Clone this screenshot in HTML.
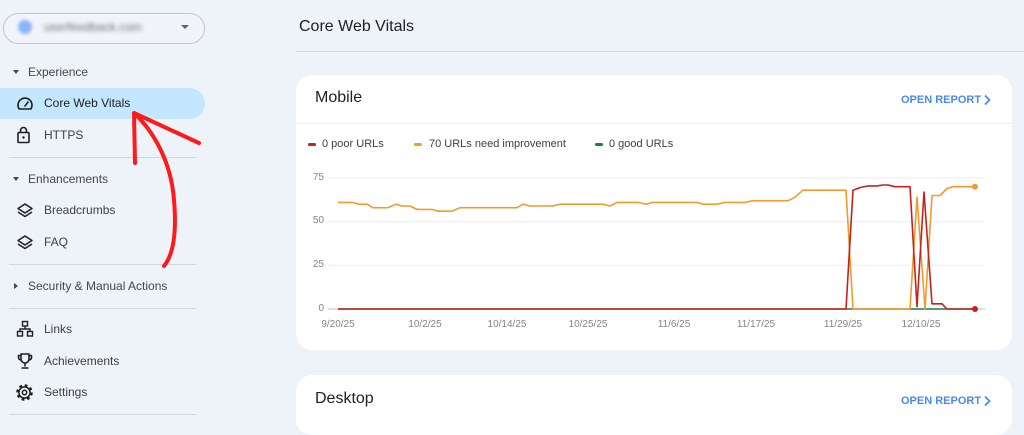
<!DOCTYPE html>
<html><head><meta charset="utf-8">
<style>
html,body{margin:0;padding:0;}
body{width:1024px;height:420px;overflow:hidden;background:#eef2f9;font-family:"Liberation Sans",Arial,sans-serif;position:relative;color:#3c4043;}
.a{position:absolute;white-space:nowrap;}
.side{font-size:12px;color:#3c4043;line-height:16px;}
.hd{font-size:12px;color:#444746;line-height:16px;}
.div{position:absolute;height:1px;background:#d3d6db;left:9px;width:187px;}
.card{position:absolute;left:296px;width:716px;background:#fff;border-radius:16px;}
.ttl{font-size:16px;color:#202124;line-height:20px;}
.open{font-size:11px;font-weight:bold;color:#4a89f3;line-height:14px;}
.leg{font-size:11px;color:#3c4043;line-height:14px;}
.yl{font-size:10px;color:#80868b;line-height:12px;text-align:right;width:20px;}
.xl{font-size:10px;color:#80868b;line-height:12px;text-align:center;width:60px;}
</style></head><body>

<!-- site selector -->
<div class="a" style="left:3px;top:13px;width:200px;height:29px;border:1px solid #c4c7c5;border-radius:16px;background:#f1f4fa;"></div>
<div class="a" style="left:18px;top:20px;width:14px;height:14px;border-radius:50%;background:#8ab4f8;filter:blur(1.5px);"></div>
<div class="a" style="left:44px;top:20px;font-size:12px;color:#6b6f75;filter:blur(2px);line-height:14px;">userfeedback.com</div>
<svg class="a" style="left:180px;top:24px" width="10" height="6"><polygon points="1,1 9,1 5,5" fill="#5f6368"/></svg>

<!-- sidebar -->
<svg class="a" style="left:12px;top:69px" width="8" height="6"><polygon points="1,1 7,1 4,5" fill="#444746"/></svg>
<div class="a hd" style="left:28px;top:64px;">Experience</div>

<div class="a" style="left:0;top:88px;width:205px;height:31px;background:#c2e7ff;border-radius:0 16px 16px 0;"></div>
<svg class="a" style="left:16px;top:95px" width="18" height="18" fill="none" stroke="#1f1f1f" stroke-width="1.6">
<path d="M3.2,14 A7,7 0 1 1 14.8,14 Z" stroke-linejoin="round"/><line x1="9" y1="11" x2="12" y2="7" stroke-linecap="round"/></svg>
<div class="a side" style="left:44px;top:95px;color:#1f1f1f;">Core Web Vitals</div>

<svg class="a" style="left:16px;top:126px" width="16" height="18" fill="none" stroke="#1f1f1f" stroke-width="1.6">
<rect x="2" y="6.5" width="11" height="10" rx="1"/><path d="M4.5,6.5 V4.5 a3,3 0 0 1 6,0 V6.5"/><circle cx="7.5" cy="11.5" r="1.2" fill="#1f1f1f" stroke="none"/></svg>
<div class="a side" style="left:44px;top:127px;">HTTPS</div>

<div class="div" style="top:157px;"></div>

<svg class="a" style="left:12px;top:176px" width="8" height="6"><polygon points="1,1 7,1 4,5" fill="#444746"/></svg>
<div class="a hd" style="left:28px;top:171px;">Enhancements</div>

<svg class="a" style="left:16px;top:202px" width="18" height="17" fill="none" stroke="#1f1f1f" stroke-width="1.5" stroke-linejoin="round">
<polygon points="9,2 16,6.5 9,11 2,6.5"/><polyline points="2,10 9,14.5 16,10"/></svg>
<div class="a side" style="left:44px;top:202px;">Breadcrumbs</div>

<svg class="a" style="left:16px;top:234px" width="18" height="17" fill="none" stroke="#1f1f1f" stroke-width="1.5" stroke-linejoin="round">
<polygon points="9,2 16,6.5 9,11 2,6.5"/><polyline points="2,10 9,14.5 16,10"/></svg>
<div class="a side" style="left:44px;top:234px;">FAQ</div>

<div class="div" style="top:264px;"></div>

<svg class="a" style="left:13px;top:282px" width="6" height="8"><polygon points="1,1 5,4 1,7" fill="#444746"/></svg>
<div class="a hd" style="left:28px;top:278px;">Security &amp; Manual Actions</div>

<div class="div" style="top:308px;"></div>

<svg class="a" style="left:16px;top:320px" width="18" height="18" fill="none" stroke="#1f1f1f" stroke-width="1.4">
<rect x="6.5" y="1.5" width="5" height="4.5"/><rect x="1.5" y="11.5" width="5" height="4.5"/><rect x="11.5" y="11.5" width="5" height="4.5"/>
<path d="M9,6 V9 M4,11.5 V9 H14 V11.5"/></svg>
<div class="a side" style="left:44px;top:321px;">Links</div>

<svg class="a" style="left:16px;top:352px" width="18" height="18" fill="none" stroke="#1f1f1f" stroke-width="1.6" stroke-linejoin="round">
<path d="M5,2 H13 V7 a4,4 0 0 1 -8,0 Z"/><path d="M5,3.5 H2.5 V5.5 a2.5,2.5 0 0 0 2.7,2.5 M13,3.5 H15.5 V5.5 a2.5,2.5 0 0 1 -2.7,2.5"/>
<path d="M9,11 V14.5 M5.5,16 H12.5"/></svg>
<div class="a side" style="left:44px;top:353px;">Achievements</div>

<svg class="a" style="left:15px;top:383px" width="19" height="19" fill="none" stroke="#1f1f1f">
<circle cx="9.5" cy="9.5" r="7" stroke-width="2.6" stroke-dasharray="2.75 2.75"/><circle cx="9.5" cy="9.5" r="5.6" stroke-width="1.5" fill="#eef2f9"/><circle cx="9.5" cy="9.5" r="2.2" stroke-width="1.5"/></svg>
<div class="a side" style="left:44px;top:384px;">Settings</div>

<div class="div" style="top:414px;"></div>

<!-- main header -->
<div class="a" style="left:299px;top:17px;font-size:16px;color:#202124;line-height:20px;">Core Web Vitals</div>
<div class="a" style="left:296px;top:51px;width:728px;height:1px;background:#d6d9de;"></div>

<!-- mobile card -->
<div class="card" style="top:75px;height:275px;"></div>
<div class="a ttl" style="left:315px;top:88px;">Mobile</div>
<div class="a open" style="left:901px;top:93px;">OPEN REPORT</div>
<svg class="a" style="left:983px;top:94px" width="9" height="12" fill="none" stroke="#4a89f3" stroke-width="1.8"><polyline points="2,1.5 6.5,6 2,10.5"/></svg>
<div class="a" style="left:296px;top:123px;width:716px;height:1px;background:#eceef1;"></div>

<div class="a" style="left:308px;top:143px;width:8px;height:3px;border-radius:2px;background:#c5221f;"></div>
<div class="a leg" style="left:322px;top:137px;">0 poor URLs</div>
<div class="a" style="left:414px;top:143px;width:8px;height:3px;border-radius:2px;background:#f29a2e;"></div>
<div class="a leg" style="left:429px;top:137px;">70 URLs need improvement</div>
<div class="a" style="left:595px;top:143px;width:8px;height:3px;border-radius:2px;background:#188038;"></div>
<div class="a leg" style="left:609px;top:137px;">0 good URLs</div>

<div class="a yl" style="left:304px;top:172px;">75</div>
<div class="a yl" style="left:304px;top:215px;">50</div>
<div class="a yl" style="left:304px;top:259px;">25</div>
<div class="a yl" style="left:304px;top:303px;">0</div>

<div class="a xl" style="left:308px;top:319px;">9/20/25</div>
<div class="a xl" style="left:395px;top:319px;">10/2/25</div>
<div class="a xl" style="left:477px;top:319px;">10/14/25</div>
<div class="a xl" style="left:558px;top:319px;">10/25/25</div>
<div class="a xl" style="left:644px;top:319px;">11/6/25</div>
<div class="a xl" style="left:726px;top:319px;">11/17/25</div>
<div class="a xl" style="left:813px;top:319px;">11/29/25</div>
<div class="a xl" style="left:891px;top:319px;">12/10/25</div>

<svg class="a" style="left:0;top:0" width="1024" height="420">
<g stroke="#eeeeee" stroke-width="1">
<line x1="328" y1="178" x2="985" y2="178"/>
<line x1="328" y1="221.7" x2="985" y2="221.7"/>
<line x1="328" y1="265.3" x2="985" y2="265.3"/>
</g>
<line x1="328" y1="309" x2="985" y2="309" stroke="#bdbdbd" stroke-width="1"/>
<g fill="none" stroke-width="1.6" stroke-linejoin="round">
<polyline stroke="#188038" points="338,309 975,309"/>
<polyline stroke="#f29a2e" points="338,202.4 352,202.4 359,204.2 367,204.2 373,207.7 388,207.7 396,204.2 402,206 410,206 417,209.4 432,209.4 438,211.2 452,211.2 460,207.7 517,207.7 523,204.2 530,206 553,206 560,204.2 603,204.2 610,206 617,202.4 638,202.4 646,204.2 653,202.4 697,202.4 703,204.2 717,204.2 725,202.4 745,202.4 753,200.7 788,200.7 795,197.2 803,190.2 846,190.2 853,309 910,309 917,197.2 925,309 932,195.5 940,195.5 947,188.5 953,186.7 975,186.7"/>
<polyline stroke="#c5221f" points="338,309 846,309 853,190.2 860,187.6 868,185.9 877,185.9 883,185 888,185 895,186.7 910,186.7 917,306.7 924,192 932,303.8 942,303.8 947,309 975,309"/>
</g>
<circle cx="975" cy="186.7" r="3" fill="#f29a2e"/>
<circle cx="975" cy="309" r="3" fill="#c5221f"/>
<!-- red arrow -->
<g fill="none" stroke="#ff1a1a" stroke-width="4" stroke-linecap="round" stroke-linejoin="round">
<path d="M135,114 C152,130 171,160 174,200 C177,235 173,255 164,266"/>
<polyline points="135,163 134,113 199,143"/>
</g>
</svg>

<!-- desktop card -->
<div class="card" style="top:375px;height:60px;"></div>
<div class="a ttl" style="left:315px;top:389px;">Desktop</div>
<div class="a open" style="left:901px;top:394px;">OPEN REPORT</div>
<svg class="a" style="left:983px;top:395px" width="9" height="12" fill="none" stroke="#4a89f3" stroke-width="1.8"><polyline points="2,1.5 6.5,6 2,10.5"/></svg>

</body></html>
